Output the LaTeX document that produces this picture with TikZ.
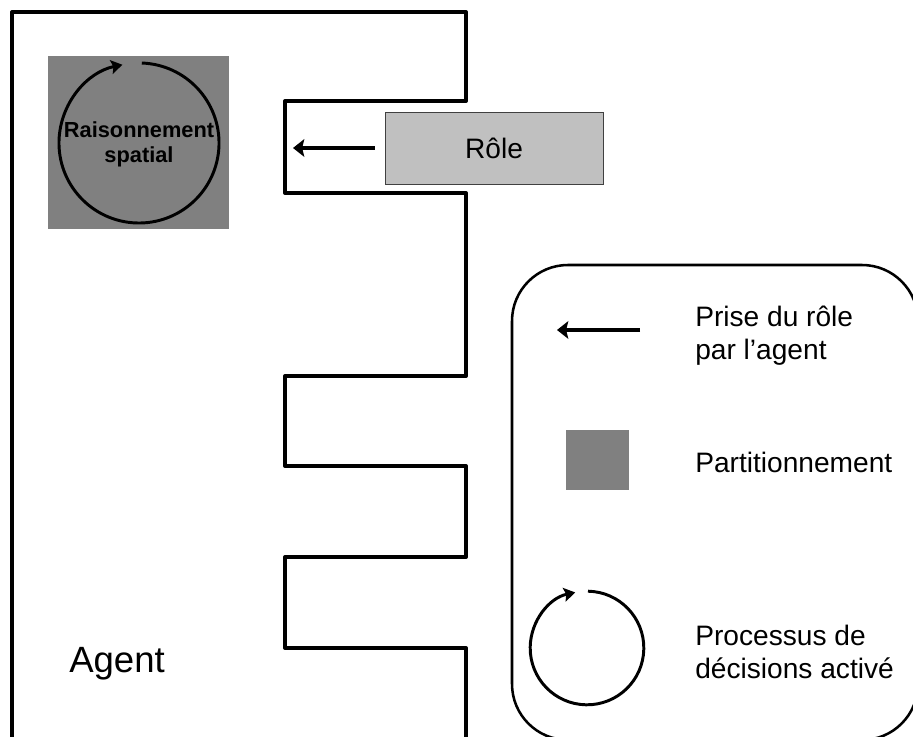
\documentclass[tikz,border=0pt]{standalone}
\usepackage{fontspec}
\setmainfont{Liberation Sans}
\usetikzlibrary{positioning,arrows.meta}
\definecolor{partgray}{HTML}{808080}
\definecolor{rolegray}{HTML}{C0C0C0}

\begin{document}
\begin{tikzpicture}[x=0.025cm,y=0.025cm,
    wall/.style={line width=2.8pt,line join=round},
    loop/.style={line width=2.1pt,-{Stealth[length=8pt,width=10pt,inset=1.5pt]}},
    arr/.style={line width=2.6pt,-{Stealth[length=8pt,width=12.5pt,inset=1.5pt]}},
    lbl/.style={font=\fontsize{20}{23.5}\selectfont,align=left,anchor=west,inner sep=0pt}]
  \useasboundingbox (0,0) rectangle (913,736);
  \clip (0,0) rectangle (913,736);
  % agent
  \draw[wall] (12,-5) -- (12,724) -- (466,724) -- (466,635) -- (285,635) -- (285,543)
    -- (466,543) -- (466,360) -- (285,360) -- (285,270) -- (466,270) -- (466,179)
    -- (285,179) -- (285,88) -- (466,88) -- (466,-5);
  \node[anchor=base west,inner sep=0pt,font=\fontsize{26}{30}\selectfont] (agent) at (69,63) {Agent};
  % partition with its loop
  \node[fill=partgray,minimum width=4.525cm,minimum height=4.325cm,inner sep=0pt] (part) at (138.5,593.5) {};
  \coordinate (rsc) at (139,593);
  \draw[loop] ([shift={(88:2cm)}]rsc) arc[start angle=88,end angle=-258,radius=2cm];
  \node[font=\bfseries\fontsize{15.5}{17.8}\selectfont,align=center,inner sep=0pt] (rs) at (139,592) {Raisonnement\\spatial};
  % role
  \node[draw=black!75,line width=0.6pt,fill=rolegray,minimum width=5.45cm,minimum height=1.8cm,
    font=\fontsize{20}{24}\selectfont] (role) at (494,588) {Rôle};
  \coordinate (take) at (293,588);
  \draw[arr] ([xshift=-0.25cm]role.west) -- (take);
  % legend
  \draw[line width=1.8pt,rounded corners=1.4cm] (512,471) rectangle (918,-4);
  \coordinate (lgA) at (640,406);
  \coordinate (lgB) at (557,406);
  \draw[arr] (lgA) -- (lgB);
  \node[lbl] (lgtake) at (695,400) {Prise du rôle\\par l’agent};
  \node[fill=partgray,minimum width=1.575cm,minimum height=1.5cm,inner sep=0pt] (lgpart) at (597.5,276) {};
  \node[lbl] (lgparttxt) at (695,274) {Partitionnement};
  \coordinate (lgc) at (587,88);
  \draw[loop] ([shift={(89:1.42cm)}]lgc) arc[start angle=89,end angle=-258,radius=1.42cm];
  \node[lbl] (lgproc) at (695,84) {Processus de\\décisions activé};
\end{tikzpicture}
\end{document}
